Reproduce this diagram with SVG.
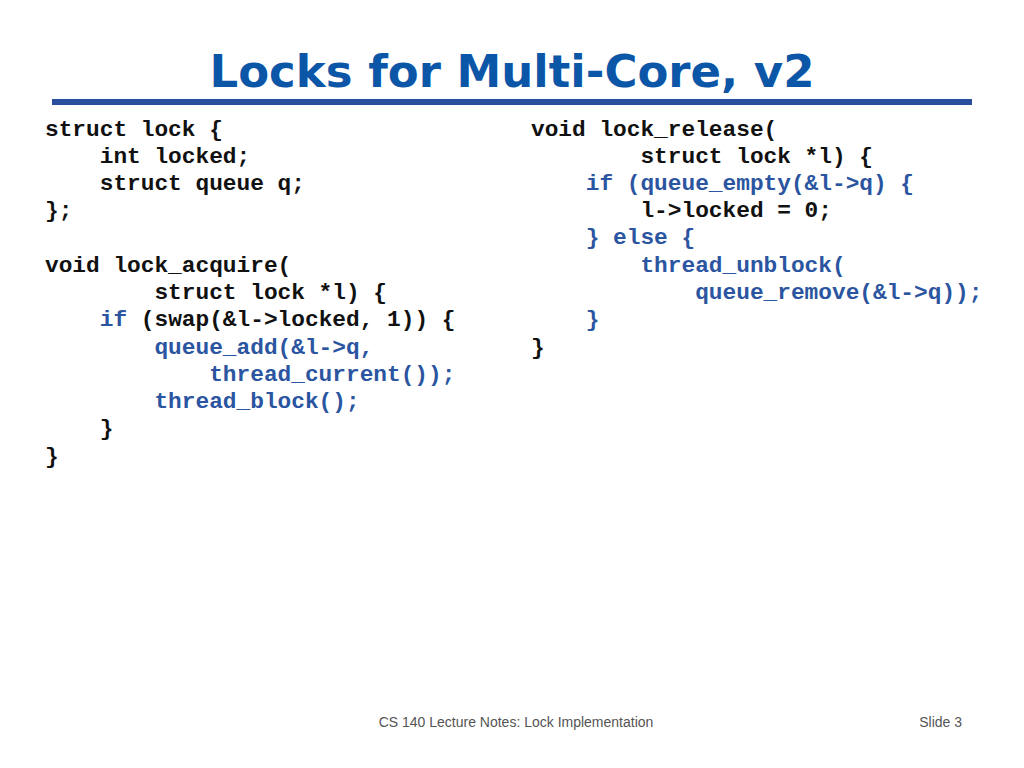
<svg xmlns="http://www.w3.org/2000/svg" width="1024" height="768" viewBox="0 0 1024 768">
<style>
.c{font-family:"Liberation Mono",monospace;font-weight:bold;font-size:22.8px;fill:#111;white-space:pre}
.b{fill:#2b55a0}
.f{font-family:"Liberation Sans",Arial,sans-serif;font-size:14px;fill:#555}
</style>
<rect width="1024" height="768" fill="#fff"/>
<text x="512" y="87" text-anchor="middle" font-family="'DejaVu Sans',Verdana,sans-serif" font-weight="bold" font-size="44" fill="#0c56a8" textLength="605" lengthAdjust="spacingAndGlyphs">Locks for Multi-Core, v2</text>
<rect x="52" y="99" width="920" height="6" fill="#2a4f9e"/>
<g id="left">
<text class="c" x="45" y="136">struct lock {</text>
<text class="c" x="45" y="163">    int locked;</text>
<text class="c" x="45" y="190">    struct queue q;</text>
<text class="c" x="45" y="217">};</text>
<text class="c" x="45" y="272">void lock_acquire(</text>
<text class="c" x="45" y="299">        struct lock *l) {</text>
<text class="c" x="45" y="326">    <tspan class="b">if</tspan> (swap(&amp;l-&gt;locked, 1)) {</text>
<text class="c b" x="45" y="354">        queue_add(&amp;l-&gt;q,</text>
<text class="c b" x="45" y="381">            thread_current());</text>
<text class="c b" x="45" y="408">        thread_block();</text>
<text class="c" x="45" y="435">    }</text>
<text class="c" x="45" y="463">}</text>
</g>
<g id="right">
<text class="c" x="531" y="136">void lock_release(</text>
<text class="c" x="531" y="163">        struct lock *l) {</text>
<text class="c b" x="531" y="190">    if (queue_empty(&amp;l-&gt;q) {</text>
<text class="c" x="531" y="217">        l-&gt;locked = 0;</text>
<text class="c b" x="531" y="244">    } else {</text>
<text class="c b" x="531" y="272">        thread_unblock(</text>
<text class="c b" x="531" y="299">            queue_remove(&amp;l-&gt;q));</text>
<text class="c b" x="531" y="326">    }</text>
<text class="c" x="531" y="354">}</text>
</g>
<text class="f" x="516" y="727" text-anchor="middle">CS 140 Lecture Notes: Lock Implementation</text>
<text class="f" x="962" y="727" text-anchor="end">Slide 3</text>
</svg>
